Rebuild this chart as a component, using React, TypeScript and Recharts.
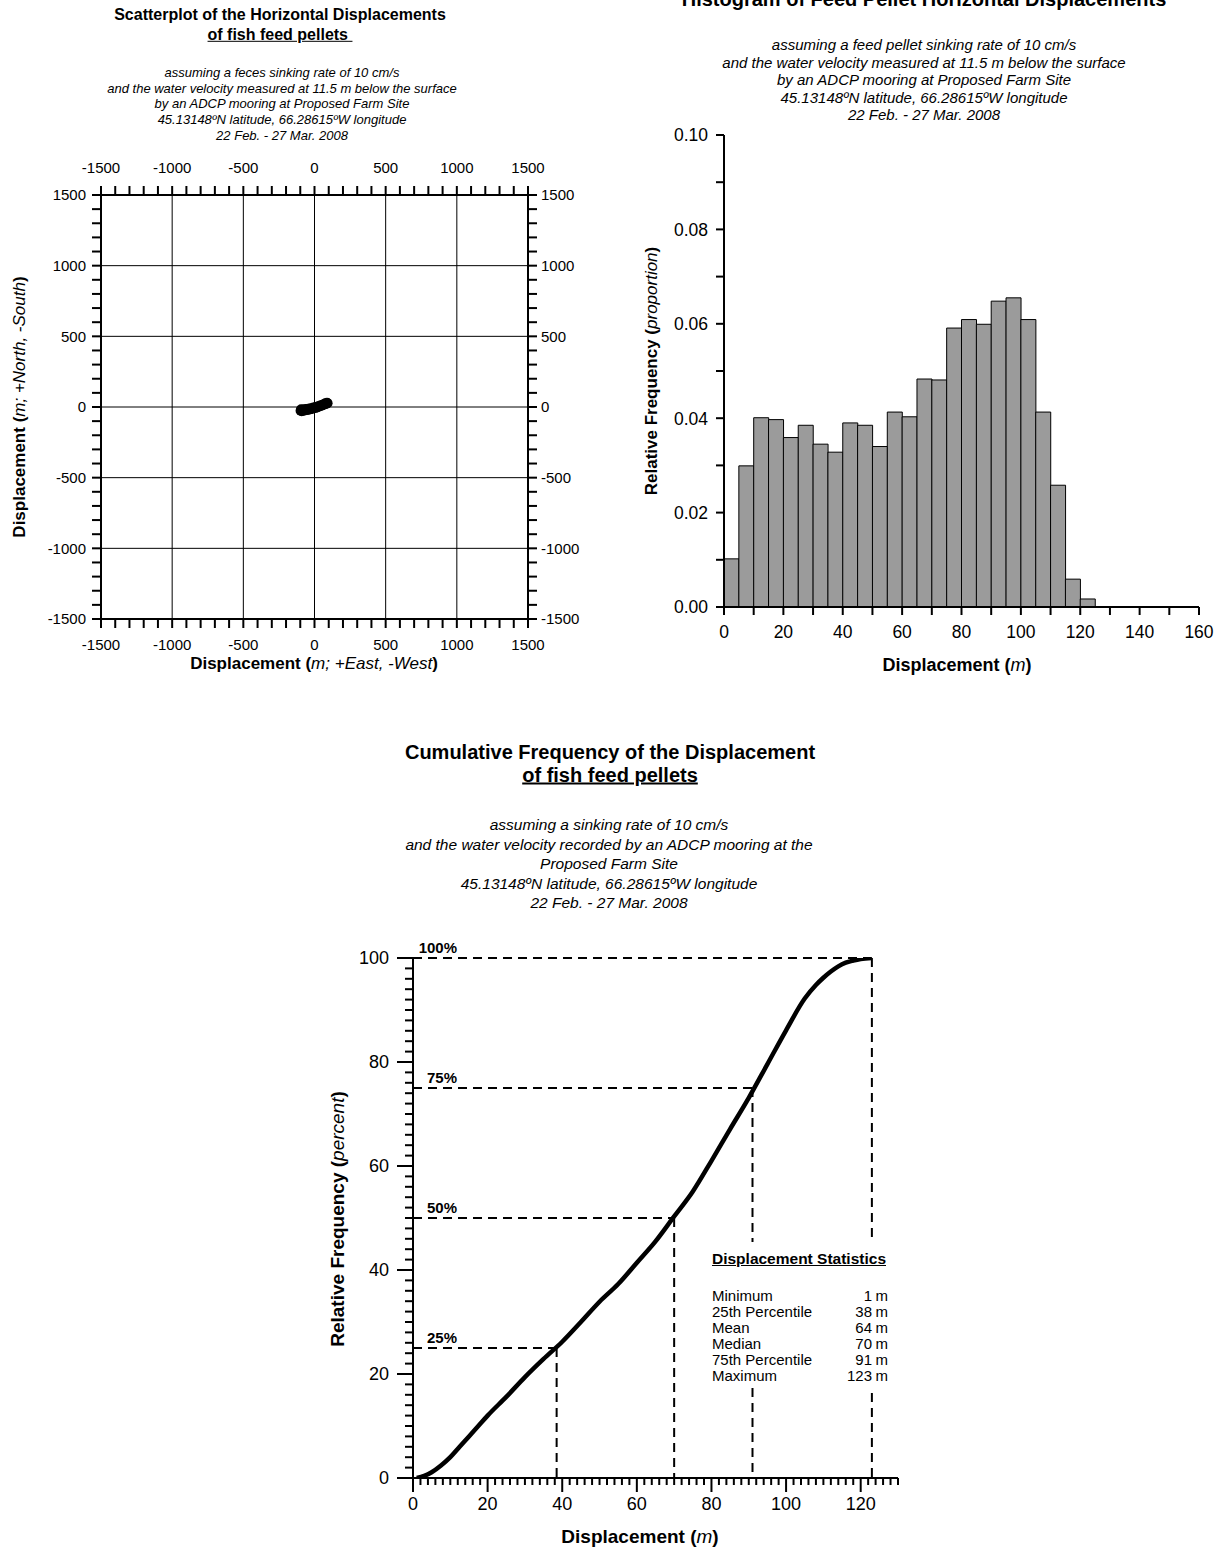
import React from "react";
import {
  ScatterChart,
  Scatter,
  BarChart,
  Bar,
  LineChart,
  Line,
  XAxis,
  YAxis,
  ReferenceLine,
} from "recharts";

const FONT = '"Liberation Sans", Arial, Helvetica, sans-serif';

// scatterplot: pellet landing positions (m east / m north of the cage)
const pelletEast = [-98, -94, -90, -85, -80, -74, -68, -62, -56, -50, -44, -38, -32, -26, -20, -14, -8, -2, 4, 10, 16, 22, 28, 34, 40, 46, 52, 58, 64, 70, 76, 82, 88, 92];
const pelletNorth = [-26, -16, -30, -20, -27, -18, -24, -15, -22, -17, -12, -19, -10, -15, -8, -12, -4, -9, -2, -6, 2, -1, 6, 3, 10, 8, 14, 12, 20, 18, 26, 22, 30, 26];
const scatterLabels = [-1500, -1000, -500, 0, 500, 1000, 1500];
const scatterGrid = [-1000, -500, 0, 500, 1000];

// histogram: 5 m bins (left edge of each bin)
const binStart = [0, 5, 10, 15, 20, 25, 30, 35, 40, 45, 50, 55, 60, 65, 70, 75, 80, 85, 90, 95, 100, 105, 110, 115, 120, 125, 130, 135, 140, 145, 150, 155];
const binFreq = [0.0102, 0.0299, 0.0401, 0.0397, 0.0359, 0.0385, 0.0345, 0.0328, 0.039, 0.0385, 0.034, 0.0413, 0.0403, 0.0483, 0.0481, 0.0591, 0.0609, 0.0599, 0.0648, 0.0655, 0.0609, 0.0413, 0.0258, 0.0059, 0.0017, 0, 0, 0, 0, 0, 0, 0];
const histXLabels = [0, 20, 40, 60, 80, 100, 120, 140, 160];
const histYLabels = [0, 0.02, 0.04, 0.06, 0.08, 0.1];

// cumulative frequency curve
const cumDistance = [1, 3, 5, 7.5, 10, 12.5, 15, 17.5, 20, 25, 30, 35, 40, 45, 50, 55, 60, 65, 70, 75, 80, 85, 90, 95, 100, 105, 108, 110, 112, 114, 116, 118, 120, 123];
const cumPercent = [0, 0.4, 1.1, 2.4, 4, 6, 8, 10, 12, 15.6, 19.4, 22.9, 26.2, 30, 33.9, 37.3, 41.4, 45.5, 50.3, 55.1, 61, 67.1, 73.1, 79.6, 86.1, 92.2, 94.8, 96.2, 97.4, 98.4, 99.1, 99.5, 99.8, 100];
const cumXLabels = [0, 20, 40, 60, 80, 100, 120];
const cumYLabels = [0, 20, 40, 60, 80, 100];
const pctLevels = [25, 50, 75, 100];
const pctDistance = [38.5, 70, 91, 123];

const statNames = ["Minimum", "25th Percentile", "Mean", "Median", "75th Percentile", "Maximum"];
const statValues = [1, 38, 64, 70, 91, 123];

const steps = (from: number, to: number, step: number) => {
  const out: number[] = [];
  for (let v = from; v <= to + 1e-9; v += step) out.push(Math.round(v * 1000) / 1000);
  return out;
};

type Side = "bottom" | "top" | "left" | "right";

// draws the tick mark itself (minor or major) plus the label on majors
function axisTick(side: Side, labels: number[], fmt: (v: number) => string, fontSize: number, minorLen: number, majorLen: number, gap: number) {
  return (props: any) => {
    const { x, y, payload } = props;
    const v = Number(payload?.value);
    const major = labels.some((l) => Math.abs(l - v) < 1e-6);
    const len = major ? majorLen : minorLen;
    const dir = side === "bottom" || side === "right" ? 1 : -1;
    const horiz = side === "bottom" || side === "top";
    const x2 = horiz ? x : x + dir * len;
    const y2 = horiz ? y + dir * len : y;
    const txt = { fontFamily: FONT, fontSize, fill: "#000" };
    let label: React.ReactNode = null;
    if (major) {
      if (side === "bottom")
        label = <text {...txt} x={x} y={y + len + gap} dy="0.72em" textAnchor="middle">{fmt(v)}</text>;
      else if (side === "top")
        label = <text {...txt} x={x} y={y - len - gap} textAnchor="middle">{fmt(v)}</text>;
      else if (side === "left")
        label = <text {...txt} x={x - len - gap} y={y} dy="0.36em" textAnchor="end">{fmt(v)}</text>;
      else label = <text {...txt} x={x + len + gap} y={y} dy="0.36em" textAnchor="start">{fmt(v)}</text>;
    }
    return (
      <g>
        <line x1={x} y1={y} x2={x2} y2={y2} stroke="#000" strokeWidth={2} />
        {label}
      </g>
    );
  };
}

const axisLine = { stroke: "#000", strokeWidth: 2 };
const plain = (v: number) => String(v);

function Txt(props: { cx: number; cy: number; size: number; bold?: boolean; italic?: boolean; underline?: boolean; rotate?: boolean; children: React.ReactNode }) {
  const { cx, cy, size, bold, italic, underline, rotate, children } = props;
  return (
    <div
      style={{
        position: "absolute",
        left: cx,
        top: cy,
        transform: `translate(-50%, -50%)${rotate ? " rotate(-90deg)" : ""}`,
        whiteSpace: "nowrap",
        fontFamily: FONT,
        fontSize: size,
        fontWeight: bold ? 700 : 400,
        fontStyle: italic ? "italic" : "normal",
        textDecoration: underline ? "underline" : "none",
        lineHeight: 1.15,
        color: "#000",
      }}
    >
      {children}
    </div>
  );
}

function Lines(props: { cx: number; top: number; size: number; lh: number; lines: string[] }) {
  return (
    <div
      style={{
        position: "absolute",
        left: props.cx,
        top: props.top,
        transform: "translateX(-50%)",
        textAlign: "center",
        whiteSpace: "nowrap",
        fontFamily: FONT,
        fontSize: props.size,
        fontStyle: "italic",
        lineHeight: `${props.lh}px`,
        color: "#000",
      }}
    >
      {props.lines.map((l) => (
        <div key={l}>{l}</div>
      ))}
    </div>
  );
}

function ScatterPanel() {
  const pts = pelletEast.map((e, i) => ({ east: e, north: pelletNorth[i] }));
  const minor = steps(-1500, 1500, 100);
  const common = { type: "number" as const, domain: [-1500, 1500], ticks: minor, interval: 0, tickSize: 0, tickMargin: 0, tickLine: false, axisLine, allowDataOverflow: true };
  return (
    <div style={{ position: "absolute", left: 0, top: 0 }}>
      <ScatterChart width={600} height={700} margin={{ top: 165, right: 22, bottom: 51, left: 51 }}>
        <XAxis {...common} dataKey="east" height={30} tick={axisTick("bottom", scatterLabels, plain, 15, 9, 9, 11)} />
        <XAxis {...common} dataKey="east" xAxisId="top" orientation="top" height={30} tick={axisTick("top", scatterLabels, plain, 15, 9, 9, 13)} />
        <YAxis {...common} dataKey="north" width={50} tick={axisTick("left", scatterLabels, plain, 15, 9, 9, 6)} />
        <YAxis {...common} dataKey="north" yAxisId="right" orientation="right" width={50} tick={axisTick("right", scatterLabels, plain, 15, 9, 9, 4)} />
        {scatterGrid.map((v) => (
          <ReferenceLine key={`gx${v}`} x={v} stroke="#000" strokeWidth={1} />
        ))}
        {scatterGrid.map((v) => (
          <ReferenceLine key={`gy${v}`} y={v} stroke="#000" strokeWidth={1} />
        ))}
        {/* same points on the top/right axes, not drawn, so those axes get their own scale */}
        <Scatter data={pts} xAxisId="top" yAxisId="right" isAnimationActive={false} shape={() => <g />} />
        <Scatter
          data={pts}
          fill="#000"
          isAnimationActive={false}
          shape={(p: any) => <circle cx={p.cx} cy={p.cy} r={5} fill="#000" />}
        />
      </ScatterChart>
    </div>
  );
}

// histogram plot geometry
const H_W = 625;
const H_MARGIN = { top: 35, right: 26, bottom: 63, left: 60 };
const H_YAXIS_W = 64;
const H_BAND = (H_W - H_MARGIN.left - H_MARGIN.right - H_YAXIS_W) / binStart.length;

// category axis ticks: ticks/labels sit on bin edges every 10 m
const histTick = (props: any) => {
  const { x, y, payload } = props;
  const start = Number(payload?.value);
  const last = binStart[binStart.length - 1];
  const edges = start === last ? [start, start + 5] : [start];
  return (
    <g>
      {edges
        .filter((e) => e % 10 === 0)
        .map((e) => {
          const ex = x - H_BAND / 2 + ((e - start) / 5) * H_BAND;
          return (
            <g key={e}>
              <line x1={ex} y1={y} x2={ex} y2={y + 8} stroke="#000" strokeWidth={2} />
              {histXLabels.includes(e) && (
                <text x={ex} y={y + 18} dy="0.72em" textAnchor="middle" fontFamily={FONT} fontSize={17.5} fill="#000">
                  {e}
                </text>
              )}
            </g>
          );
        })}
    </g>
  );
};

function HistogramPanel() {
  const rows = binStart.map((b, i) => ({ start: b, freq: binFreq[i] }));
  return (
    <div style={{ position: "absolute", left: 600, top: 100 }}>
      <BarChart width={H_W} height={600} data={rows} margin={H_MARGIN} barCategoryGap={0} barGap={0}>
        <XAxis
          dataKey="start"
          interval={0}
          tickSize={0}
          tickMargin={0}
          tickLine={false}
          axisLine={axisLine}
          height={30}
          tick={histTick}
        />
        <YAxis
          type="number"
          domain={[0, 0.1]}
          ticks={steps(0, 0.1, 0.01)}
          interval={0}
          tickSize={0}
          tickMargin={0}
          tickLine={false}
          axisLine={axisLine}
          allowDataOverflow
          width={H_YAXIS_W}
          tick={axisTick("left", histYLabels, (v) => v.toFixed(2), 17.5, 8, 8, 8)}
        />
        <Bar dataKey="freq" fill="#9b9b9b" stroke="#000" strokeWidth={1} isAnimationActive={false} />
      </BarChart>
    </div>
  );
}

const pctLabel = (text: string) => (lp: any) => {
  const vb = lp?.viewBox ?? {};
  return (
    <text x={(vb.x ?? 0) + 44} y={(vb.y ?? 0) - 5} textAnchor="end" fontFamily={FONT} fontSize={15} fontWeight={700} fill="#000">
      {text}
    </text>
  );
};

function CumulativePanel() {
  const rows = cumDistance.map((d, i) => ({ d, p: cumPercent[i] }));
  const dash = { stroke: "#000", strokeWidth: 2, strokeDasharray: "9 6", ifOverflow: "visible" as const };
  return (
    <div style={{ position: "absolute", left: 300, top: 930 }}>
      <LineChart width={620} height={600} data={rows} margin={{ top: 28, right: 22, bottom: 12, left: 43 }}>
        <XAxis
          type="number"
          dataKey="d"
          domain={[0, 130]}
          ticks={steps(0, 130, 2)}
          interval={0}
          tickSize={0}
          tickMargin={0}
          tickLine={false}
          axisLine={axisLine}
          allowDataOverflow
          height={40}
          tick={axisTick("bottom", cumXLabels, plain, 18, 7, 14, 5)}
        />
        <YAxis
          type="number"
          domain={[0, 100]}
          ticks={steps(0, 100, 2)}
          interval={0}
          tickSize={0}
          tickMargin={0}
          tickLine={false}
          axisLine={axisLine}
          allowDataOverflow
          width={70}
          tick={axisTick("left", cumYLabels, plain, 18, 8, 16, 8)}
        />
        {pctLevels.map((p, i) => (
          <ReferenceLine
            key={`h${p}`}
            {...dash}
            segment={[{ x: 0, y: p }, { x: pctDistance[i], y: p }]}
            label={pctLabel(`${p}%`)}
          />
        ))}
        {pctLevels.map((p, i) => (
          <ReferenceLine key={`v${p}`} {...dash} segment={[{ x: pctDistance[i], y: p }, { x: pctDistance[i], y: 0 }]} />
        ))}
        <Line type="monotone" dataKey="p" stroke="#000" strokeWidth={4.5} dot={false} isAnimationActive={false} />
      </LineChart>
    </div>
  );
}

function StatsBox() {
  return (
    <div style={{ position: "absolute", left: 702, top: 1242, width: 194, height: 146, background: "#fff", fontFamily: FONT, color: "#000" }}>
      <div style={{ position: "absolute", left: 0, top: 8, width: 194, textAlign: "center", fontSize: 15.5, fontWeight: 700, textDecoration: "underline" }}>
        Displacement Statistics
      </div>
      {statNames.map((n, i) => (
        <div key={n} style={{ position: "absolute", left: 10, top: 46 + i * 16, width: 180, fontSize: 15, lineHeight: "16px" }}>
          <span>{n}</span>
          <span style={{ position: "absolute", right: 20, top: 0 }}>{statValues[i]}</span>
          <span style={{ position: "absolute", right: 4, top: 0 }}>m</span>
        </div>
      ))}
    </div>
  );
}

export default function App() {
  return (
    <div style={{ position: "absolute", left: 0, top: 0, width: 1225, height: 1553, background: "#fff", overflow: "hidden" }}>
      <ScatterPanel />
      <HistogramPanel />
      <CumulativePanel />
      <StatsBox />

      {/* scatterplot titles */}
      <Txt cx={280} cy={15} size={16} bold>Scatterplot of the Horizontal Displacements</Txt>
      <Txt cx={280} cy={35} size={16} bold underline>of fish feed pellets{"\u00a0"}</Txt>
      <Lines
        cx={282}
        top={65}
        size={13}
        lh={15.7}
        lines={[
          "assuming a feces sinking rate of 10 cm/s",
          "and the water velocity measured at 11.5 m below the surface",
          "by an ADCP mooring at Proposed Farm Site",
          "45.13148\u00baN latitude, 66.28615\u00baW longitude",
          "22 Feb. - 27 Mar. 2008",
        ]}
      />
      <Txt cx={314} cy={664} size={17} bold>
        Displacement (<i style={{ fontWeight: 400 }}>m; +East, -West</i>)
      </Txt>
      <Txt cx={20} cy={407} size={17} bold rotate>
        Displacement (<i style={{ fontWeight: 400 }}>m; +North, -South</i>)
      </Txt>

      {/* histogram titles */}
      <Txt cx={924} cy={-1} size={20} bold>Histogram of Feed Pellet Horizontal Displacements</Txt>
      <Lines
        cx={924}
        top={36}
        size={15}
        lh={17.5}
        lines={[
          "assuming a feed pellet sinking rate of 10 cm/s",
          "and the water velocity measured at 11.5 m below the surface",
          "by an ADCP mooring at Proposed Farm Site",
          "45.13148\u00baN latitude, 66.28615\u00baW longitude",
          "22 Feb. - 27 Mar. 2008",
        ]}
      />
      <Txt cx={957} cy={665} size={18} bold>
        Displacement (<i style={{ fontWeight: 400 }}>m</i>)
      </Txt>
      <Txt cx={652} cy={371} size={17} bold rotate>
        Relative Frequency (<i style={{ fontWeight: 400 }}>proportion</i>)
      </Txt>

      {/* cumulative titles */}
      <Txt cx={610} cy={752} size={20} bold>Cumulative Frequency of the Displacement</Txt>
      <Txt cx={610} cy={775} size={20} bold underline>of fish feed pellets</Txt>
      <Lines
        cx={609}
        top={815}
        size={15.5}
        lh={19.5}
        lines={[
          "assuming a sinking rate of 10 cm/s",
          "and the water velocity recorded by an ADCP mooring at the",
          "Proposed Farm Site",
          "45.13148\u00baN latitude, 66.28615\u00baW longitude",
          "22 Feb. - 27 Mar. 2008",
        ]}
      />
      <Txt cx={640} cy={1537} size={19} bold>
        Displacement (<i style={{ fontWeight: 400 }}>m</i>)
      </Txt>
      <Txt cx={338} cy={1219} size={19} bold rotate>
        Relative Frequency (<i style={{ fontWeight: 400 }}>percent</i>)
      </Txt>
    </div>
  );
}
